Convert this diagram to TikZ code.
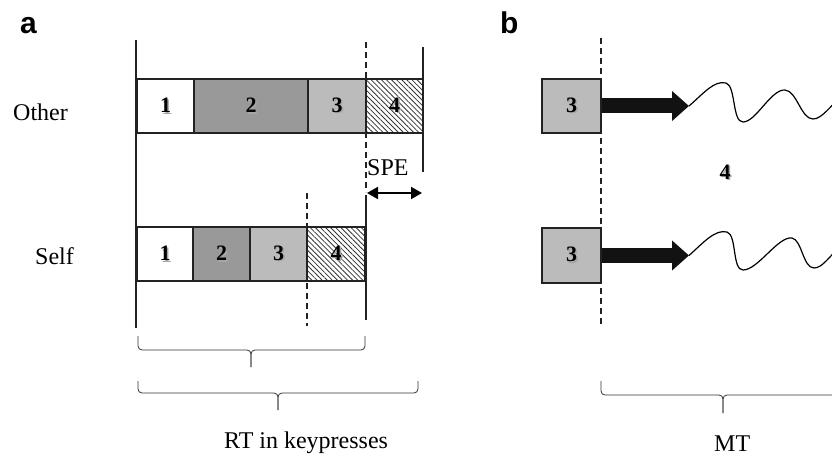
\documentclass[tikz,border=0pt]{standalone}
\usepackage{fontspec}
\setmainfont{Liberation Serif}
\newfontfamily\labfont{Liberation Sans}
\usetikzlibrary{patterns.meta,arrows.meta}
\definecolor{darkseg}{HTML}{999999}
\definecolor{lightseg}{HTML}{BBBBBB}
\definecolor{edge}{HTML}{222222}
\newcommand{\shd}[1]{\rlap{\hspace{1.5pt}\raisebox{-1.5pt}{\color{black!35}#1}}#1}
\begin{document}
\begin{tikzpicture}[x=1pt,y=-1pt,
  seg/.style={draw=edge,line width=1.6pt,minimum height=54pt,inner sep=0pt,
    font=\fontsize{22}{22}\bfseries\selectfont},
  hatch/.style={pattern={Lines[angle=-45,distance=3.6pt,line width=0.8pt]},pattern color=black!80},
  vline/.style={draw=edge,line width=1.6pt},
  thinv/.style={draw=edge,line width=1.2pt},
  dashline/.style={draw=edge,line width=1.3pt,dash pattern=on 6pt off 4pt},
  bracepath/.style={draw=black!80,line width=0.8pt,rounded corners=4pt},
  lab/.style={font=\fontsize{24}{24}\selectfont,inner sep=0pt,anchor=base west},
  panel/.style={font=\labfont\fontsize{30}{30}\bfseries\selectfont,inner sep=0pt,anchor=base west},
  digit/.style={font=\fontsize{22}{22}\bfseries\selectfont,inner sep=0pt},
  bigarrow/.style={draw=black!93,line width=15pt,-{Triangle[length=17pt,width=29pt]}},
  wave/.style={draw=black,line width=1.2pt}]
\useasboundingbox (0,0) rectangle (832,457);
\clip (0,0) rectangle (832,457);

% panel labels
\node[panel] (la) at (20,34) {a};
\node[panel] (lb) at (500,34) {b};

% row labels
\node[lab] (other) at (13,121) {Other};
\node[lab] (self) at (35,264) {Self};

% vertical guide lines (panel a)
\coordinate (aTop) at (136,40);
\coordinate (aBot) at (136,328);
\draw[vline] (aTop) -- (aBot);
\coordinate (oRtop) at (423,47);
\coordinate (oRbot) at (423,172);
\draw[thinv] (oRtop) -- (oRbot);
\coordinate (sRtop) at (366,195);
\coordinate (sRbot) at (366,320);
\draw[thinv] (sRtop) -- (sRbot);
\coordinate (d1top) at (366,42);
\coordinate (d1bot) at (366,192);
\draw[dashline] (d1top) -- (d1bot);
\coordinate (d2top) at (307,193);
\coordinate (d2bot) at (307,326);
\draw[dashline] (d2top) -- (d2bot);

% Other row
\node[seg,fill=white,minimum width=57pt] (o1) at (165.5,106) {\shd{1}};
\node[seg,fill=darkseg,minimum width=114pt] (o2) at (251,106) {\shd{2}};
\node[seg,fill=lightseg,minimum width=58pt] (o3) at (337,106) {\shd{3}};
\node[seg,hatch,minimum width=57pt] (o4) at (394.5,106) {\shd{4}};

% Self row
\node[seg,fill=white,minimum width=56pt] (s1) at (165,254) {\shd{1}};
\node[seg,fill=darkseg,minimum width=57pt] (s2) at (221.5,254) {\shd{2}};
\node[seg,fill=lightseg,minimum width=57pt] (s3) at (278.5,254) {\shd{3}};
\node[seg,hatch,minimum width=58pt] (s4) at (336,254) {\shd{4}};

% SPE
\node[lab] (spe) at (367,176) {SPE};
\coordinate (speL) at (367,193);
\coordinate (speR) at (422,193);
\draw[line width=2pt,{Triangle[length=11pt,width=12pt]}-{Triangle[length=11pt,width=12pt]}] (speL) -- (speR);

% braces panel a
\draw[bracepath] (138,336) -- (138,350) -- (251,350) -- (251,367);
\draw[bracepath] (251,367) -- (251,350) -- (365,350) -- (365,336);
\draw[bracepath] (138,381) -- (138,393) -- (278,393) -- (278,410);
\draw[bracepath] (278,410) -- (278,393) -- (418,393) -- (418,381);
\node[lab] (rt) at (224,448) {RT in keypresses};

% panel b
\coordinate (d3top) at (601,38);
\coordinate (d3bot) at (601,324);
\draw[dashline] (d3top) -- (d3bot);
\node[seg,fill=lightseg,minimum width=59pt] (b1) at (571.5,106) {\shd{3}};
\node[seg,fill=lightseg,minimum width=59pt,minimum height=55pt] (b2) at (571.5,255.5) {\shd{3}};

\coordinate (t1) at (689,106);
\coordinate (t2) at (689,255.5);
\draw[bigarrow] (b1.east) -- (t1);
\draw[bigarrow] (b2.east) -- (t2);

\draw[wave] (t1) .. controls (703,94) and (714,80) .. (726,83)
  .. controls (736,86) and (732,122) .. (743,122)
  .. controls (756,122) and (771,89) .. (785,90)
  .. controls (797,91) and (801,119) .. (813,119)
  .. controls (822,119) and (830,106) .. (842,96);
\draw[wave] (t2) .. controls (703,243) and (715,229) .. (727,232)
  .. controls (737,235) and (732,270) .. (743,270)
  .. controls (758,270) and (778,236) .. (792,238)
  .. controls (802,240) and (803,268) .. (814,268)
  .. controls (823,268) and (830,255) .. (842,245);

\node[digit] (four) at (725,173) {\shd{4}};

% MT brace
\draw[bracepath] (601,381) -- (601,395) -- (723,395) -- (723,413);
\draw[bracepath] (723,413) -- (723,395) -- (845,395) -- (845,381);
\node[lab] (mt) at (714,451) {MT};
\end{tikzpicture}
\end{document}
